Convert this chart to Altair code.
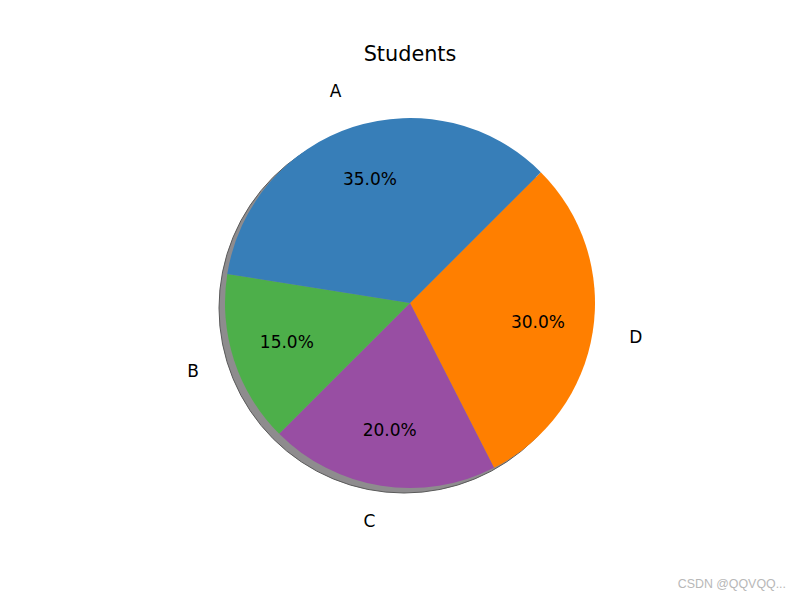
import math
import altair as alt
import pandas as pd

labels = ["D", "C", "B", "A"]
shares = [30, 20, 15, 35]
colors = ["#ff7f00", "#984ea3", "#4daf4a", "#377eb8"]
order = [0, 1, 2, 3]

df = pd.DataFrame({
    "label": labels,
    "share": shares,
    "ord": order,
    "pct": [f"{v:.1f}%" for v in shares],
})

CX, CY, R = 402, 295, 185
start = math.pi / 4
theta_scale = alt.Scale(domain=[0, 100], range=[start, start + 2 * math.pi])
color_scale = alt.Scale(domain=labels, range=colors)

base = alt.Chart(df).encode(
    theta=alt.Theta("share:Q", stack=True, scale=theta_scale),
    order=alt.Order("ord:Q"),
    x=alt.value(CX),
    y=alt.value(CY),
)

shadow = alt.Chart(pd.DataFrame({"k": [0]})).mark_arc(
    theta=0, theta2=2 * math.pi, radius=R, fill="#8e8c8e", stroke="#5a5a5a", strokeWidth=1
).encode(x=alt.value(CX - 6), y=alt.value(CY + 5))

pie = base.mark_arc(radius=R, stroke=None).encode(
    color=alt.Color("label:N", scale=color_scale, legend=None)
)

mid_base = alt.Chart(df).transform_window(
    cum="sum(share)", sort=[alt.SortField("ord", order="ascending")]
).transform_calculate(
    mid="datum.cum - datum.share / 2",
    side=f"sin({start} + datum.mid / 100 * 2 * PI) >= 0 ? 'L' : 'R'",
).encode(
    theta=alt.Theta("mid:Q", stack=None, scale=theta_scale),
    x=alt.value(CX),
    y=alt.value(CY),
    text="label:N",
)

outer_l = mid_base.transform_filter("datum.side == 'L'").mark_text(
    radius=R * 1.2, fontSize=17, font="DejaVu Sans", color="black", align="left"
)
outer_r = mid_base.transform_filter("datum.side == 'R'").mark_text(
    radius=R * 1.2, fontSize=17, font="DejaVu Sans", color="black", align="right"
)
inner = base.mark_text(radius=R * 0.7, fontSize=17, font="DejaVu Sans", color="black").encode(
    text="pct:N"
)

title = alt.Chart(pd.DataFrame({"t": ["Students"]})).mark_text(
    fontSize=20.8, font="DejaVu Sans", color="black"
).encode(x=alt.value(CX), y=alt.value(47), text="t:N")

wm = alt.Chart(pd.DataFrame({"t": ["CSDN @QQVQQ..."]})).mark_text(
    fontSize=12.4, font="Liberation Sans", color="#b8b8b8", align="right"
).encode(x=alt.value(778), y=alt.value(576), text="t:N")

chart = alt.layer(shadow, pie, outer_l, outer_r, inner, title, wm).properties(
    width=784, height=584, autosize=alt.AutoSizeParams(type="none"), padding=0
).configure_view(stroke=None)

chart.save("out.html", embed_options={"renderer": "svg", "actions": False})
